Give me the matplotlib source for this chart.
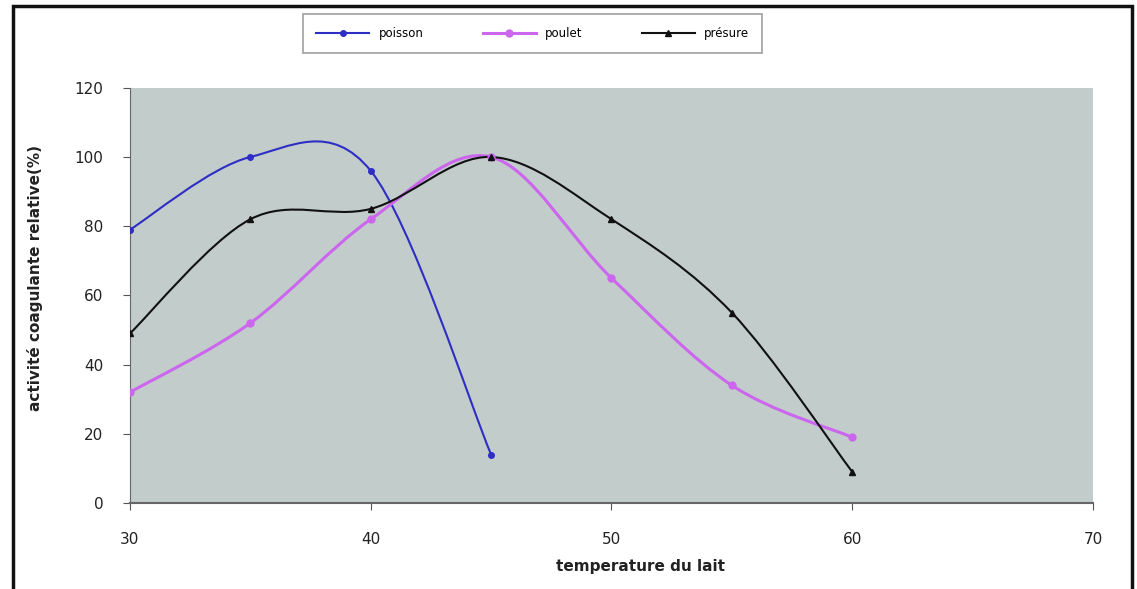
import matplotlib.pyplot as plt
from matplotlib.path import Path
from matplotlib.patches import PathPatch, Rectangle
from matplotlib.lines import Line2D

# data
temp_poisson = [30, 35, 40, 45]
poisson = [79, 100, 96, 14]
temp = [30, 35, 40, 45, 50, 55, 60]
poulet = [32, 52, 82, 100, 65, 34, 19]
presure = [49, 82, 85, 100, 82, 55, 9]

x_ticks = [30, 40, 50, 60, 70]
y_ticks = [0, 20, 40, 60, 80, 100, 120]


def smooth_path(xs, ys):
    # excel-like smoothed line: cubic bezier through the points
    pts = list(zip(xs, ys))
    verts = [pts[0]]
    codes = [Path.MOVETO]
    n = len(pts)
    for i in range(n - 1):
        p0 = pts[i - 1] if i > 0 else pts[i]
        p1 = pts[i]
        p2 = pts[i + 1]
        p3 = pts[i + 2] if i + 2 < n else pts[i + 1]
        c1 = (p1[0] + (p2[0] - p0[0]) / 6, p1[1] + (p2[1] - p0[1]) / 6)
        c2 = (p2[0] - (p3[0] - p1[0]) / 6, p2[1] - (p3[1] - p1[1]) / 6)
        verts += [c1, c2, p2]
        codes += [Path.CURVE4] * 3
    return Path(verts, codes)


fig = plt.figure(figsize=(11.37, 5.89), dpi=100)
ax = fig.add_axes([0.1143, 0.146, 0.847, 0.705])
ax.set_facecolor('#c2cccb')

series = [
    (temp_poisson, poisson, '#2e2ec4', 'o', 4, 1.5, 'poisson'),
    (temp, poulet, '#cc66ee', 'o', 5, 2.2, 'poulet'),
    (temp, presure, '#111111', '^', 4, 1.5, 'présure'),
]
handles = []
for xs, ys, col, mk, ms, lw, name in series:
    ax.add_patch(PathPatch(smooth_path(xs, ys), facecolor='none', edgecolor=col, lw=lw, zorder=3))
    ax.plot(xs, ys, linestyle='none', marker=mk, color=col, markersize=ms, zorder=4)
    handles.append(Line2D([], [], color=col, lw=lw, marker=mk, markersize=ms, label=name))

ax.set_xlim(30, 70)
ax.set_ylim(0, 120)
ax.set_xticks(x_ticks)
ax.set_yticks(y_ticks)
ax.tick_params(axis='both', direction='out', length=5, width=0.8, color='#555555',
               labelsize=11, labelcolor='#222222')
ax.tick_params(axis='x', pad=16)
ax.tick_params(axis='y', pad=14)
for side in ['top', 'right']:
    ax.spines[side].set_visible(False)
ax.spines['left'].set_color('#666666')
ax.spines['bottom'].set_color('#666666')
ax.spines['bottom'].set_linewidth(1.5)

fig.text(0.563, 0.038, 'temperature du lait', ha='center', va='center',
         fontsize=11, fontweight='bold', color='#222222')
fig.text(0.031, 0.528, 'activité coagulante relative(%)', ha='center', va='center',
         rotation=90, fontsize=11, fontweight='bold', color='#222222')

leg = fig.legend(handles=handles, ncol=3, loc='center',
                 bbox_to_anchor=(0.4685, 0.943, 0.0, 0.0), fontsize=8.5,
                 frameon=True, fancybox=False, handlelength=4.5,
                 columnspacing=5, borderpad=1.1)
leg.get_frame().set_edgecolor('#888888')
leg.get_frame().set_linewidth(1.2)

# outer chart border
fig.patches.append(Rectangle((0.011, -0.01), 0.985, 1.0, transform=fig.transFigure,
                             fill=False, edgecolor='#111111', lw=2.5))

fig.savefig('out.png', dpi=100)
